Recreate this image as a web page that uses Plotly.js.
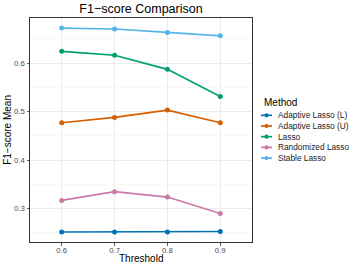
<!DOCTYPE html>
<html>
<head>
<meta charset="utf-8">
<script src="https://cdn.plot.ly/plotly-3.0.1.min.js"></script>
<style>html,body{margin:0;padding:0;background:#fff;}#chart{width:357px;height:268px;}</style>
</head>
<body>
<div id="chart"></div>
<script>
// ---- data ----
const thresholds = [0.6, 0.7, 0.8, 0.9];
const methods = ["Adaptive Lasso (L)", "Adaptive Lasso (U)", "Lasso", "Randomized Lasso", "Stable Lasso"];
const adaptiveL = [0.252, 0.252, 0.252, 0.253];
const adaptiveU = [0.477, 0.488, 0.503, 0.477];
const lasso = [0.624, 0.616, 0.587, 0.531];
const randomized = [0.317, 0.335, 0.324, 0.290];
const stable = [0.672, 0.670, 0.663, 0.656];
const yTicks = [0.3, 0.4, 0.5, 0.6];
const xTicks = [0.6, 0.7, 0.8, 0.9];

// ---- style ----
const colors = ["#0072B2", "#D55E00", "#009E73", "#CC79A7", "#56B4E9"];
const series = [adaptiveL, adaptiveU, lasso, randomized, stable];
const W = 357, H = 268;
const M = {l: 30, r: 105, t: 18, b: 26};
const pw = W - M.l - M.r, ph = H - M.t - M.b;
const px2x = p => (p - M.l) / pw;
const py2y = p => (H - M.b - p) / ph;
const FONT = "Liberation Sans, Arial, Helvetica, sans-serif";

const traces = series.map((ys, i) => ({
  x: thresholds, y: ys, name: methods[i], type: "scatter", mode: "lines+markers",
  line: {color: colors[i], width: 1.7}, marker: {color: colors[i], size: 5},
  showlegend: false, hoverinfo: "skip"
}));

// axis titles + manual legend
const annotations = [
  {xref: "paper", yref: "paper", x: 0.5, y: py2y(258.3), xanchor: "center", yanchor: "middle",
   text: "Threshold", showarrow: false, font: {family: FONT, size: 10, color: "#000"}},
  {xref: "paper", yref: "paper", x: px2x(6.8), y: 0.5, xanchor: "center", yanchor: "middle", textangle: -90,
   text: "F1\u2212score Mean", showarrow: false, font: {family: FONT, size: 10, color: "#000"}},
  {xref: "paper", yref: "paper", x: px2x(261.5), y: py2y(102.7), xanchor: "left", yanchor: "middle",
   text: "Method", showarrow: false, font: {family: FONT, size: 10, color: "#000"}}
];
const shapes = [];
const legY0 = 115.3, legStep = 10.7;
methods.forEach((m, i) => {
  const cy = legY0 + i * legStep;
  annotations.push({
    xref: "paper", yref: "paper", x: px2x(276), y: py2y(cy), xanchor: "left", yanchor: "middle",
    text: m, showarrow: false, font: {family: FONT, size: 8.3, color: "#1a1a1a"}
  });
  shapes.push({type: "line", xref: "paper", yref: "paper", x0: px2x(261), x1: px2x(272), y0: py2y(cy), y1: py2y(cy),
    line: {color: colors[i], width: 1.7}});
  shapes.push({type: "circle", xref: "paper", yref: "paper", x0: px2x(264.4), x1: px2x(268.6), y0: py2y(cy - 2.1), y1: py2y(cy + 2.1),
    fillcolor: colors[i], line: {color: colors[i], width: 0}});
});

const layout = {
  width: W, height: H, margin: M, paper_bgcolor: "#fff", plot_bgcolor: "#fff",
  font: {family: FONT},
  title: {text: "F1\u2212score Comparison", font: {family: FONT, size: 12.5, color: "#000"},
    xref: "paper", x: 0.5, xanchor: "center", yref: "container", y: 1 - 8.5 / H, yanchor: "middle"},
  xaxis: {
    range: [0.54, 0.96], tickvals: xTicks, ticktext: xTicks.map(v => v.toFixed(1)),
    showgrid: true, gridcolor: "#ebebeb", gridwidth: 1, zeroline: false,
    showline: true, mirror: true, linecolor: "#333333", linewidth: 1,
    ticks: "outside", ticklen: 2.5, tickcolor: "#333333", tickwidth: 0.8,
    tickfont: {family: FONT, size: 7.8, color: "#4d4d4d"}, ticklabelstandoff: -2,
    fixedrange: true
  },
  yaxis: {
    range: [0.2314, 0.6927], tickvals: yTicks, ticktext: yTicks.map(v => v.toFixed(1)),
    showgrid: true, gridcolor: "#ebebeb", gridwidth: 1, zeroline: false,
    minor: {dtick: 0.05, tick0: 0.25, showgrid: true, gridcolor: "#f4f4f4", gridwidth: 0.6, ticks: ""},
    showline: true, mirror: true, linecolor: "#333333", linewidth: 1,
    ticks: "outside", ticklen: 2.5, tickcolor: "#333333", tickwidth: 0.8,
    tickfont: {family: FONT, size: 7.8, color: "#4d4d4d"},
    fixedrange: true
  },
  annotations: annotations, shapes: shapes, showlegend: false
};

Plotly.newPlot("chart", traces, layout, {displayModeBar: false, staticPlot: true});
</script>
</body>
</html>
